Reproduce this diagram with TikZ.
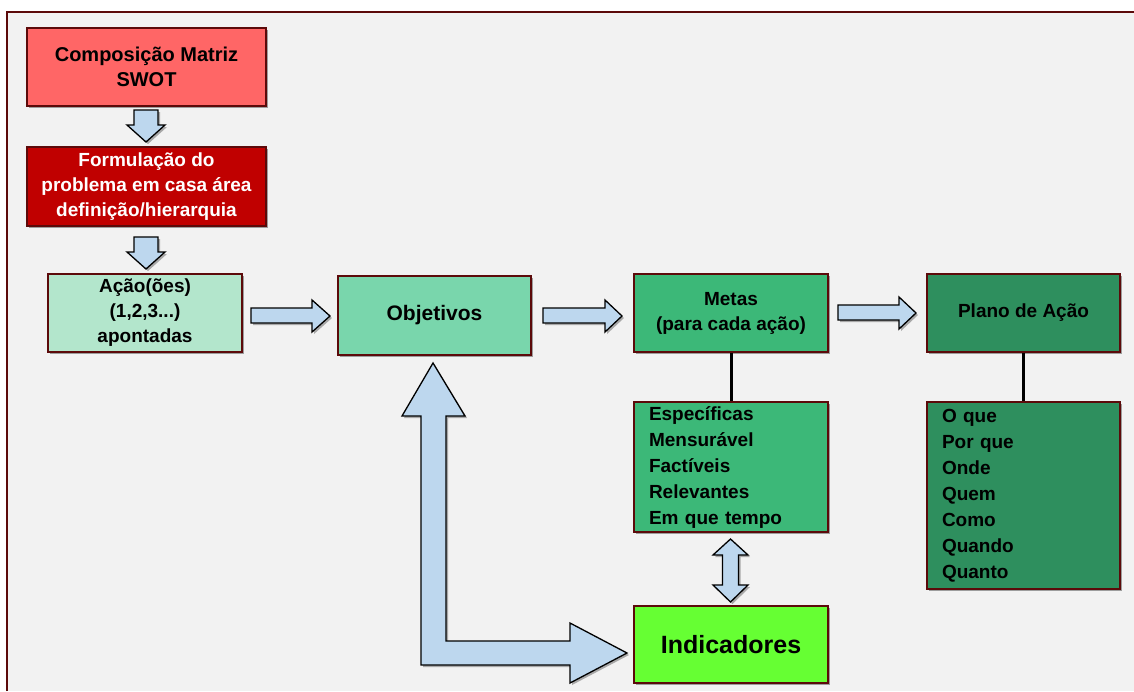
\documentclass[tikz,border=0pt]{standalone}
\usepackage{fontspec}
\setmainfont{Liberation Sans}
\usetikzlibrary{shadows}
\definecolor{bgc}{HTML}{F2F2F2}
\definecolor{frame}{HTML}{5C0A0A}
\definecolor{cswot}{HTML}{FF6666}
\definecolor{cform}{HTML}{C00000}
\definecolor{cacao}{HTML}{B3E6CC}
\definecolor{cobj}{HTML}{79D6AC}
\definecolor{cmetas}{HTML}{3CB878}
\definecolor{cplano}{HTML}{2E8F5E}
\definecolor{cind}{HTML}{66FF33}
\definecolor{carrow}{HTML}{BDD7EE}
\tikzset{
  box/.style={draw=frame, line width=1.5pt, inner sep=0pt, align=center,
    font=\fontsize{19}{25}\selectfont\bfseries,
    drop shadow={shadow xshift=2pt, shadow yshift=-2pt, opacity=0.35, fill=black}},
  listbox/.style={box, align=left, inner xsep=15pt,
    font=\fontsize{19}{26}\selectfont\bfseries},
  blockarrow/.style={fill=carrow, draw=black, line width=1.3pt, line join=miter,
    drop shadow={shadow xshift=2pt, shadow yshift=-2pt, opacity=0.3, fill=black}},
  link/.style={draw=black, line width=3pt}
}
\begin{document}
\begin{tikzpicture}[x=1pt, y=-1pt]
\useasboundingbox (0,0) rectangle (1134,691);
\fill[white] (0,0) rectangle (1134,691);
\fill[bgc] (7,12) rectangle (1134,691);
\draw[frame, line width=2.5pt] (7,691) -- (7,12) -- (1134,12);

% boxes
\node[box, fill=cswot, minimum width=239pt, minimum height=78pt, font=\fontsize{20}{25}\selectfont\bfseries] (swot) at (146.5,67) {Composição Matriz\\SWOT};
\node[box, fill=cform, text=white, minimum width=239pt, minimum height=79pt] (form) at (146.5,186.5) {Formulação do\\problema em casa área\\definição/hierarquia};
\node[box, fill=cacao, minimum width=194pt, minimum height=78pt] (acao) at (145,313) {Ação(ões)\\(1,2,3...)\\apontadas};
\node[box, fill=cobj, minimum width=193pt, minimum height=79pt, font=\fontsize{21}{25}\selectfont\bfseries] (obj) at (434.5,315.5) {Objetivos};
\node[box, fill=cmetas, minimum width=194pt, minimum height=78pt] (metas) at (731,313) {Metas\\(para cada ação)};
\node[box, fill=cplano, minimum width=193pt, minimum height=78pt] (plano) at (1023.5,313) {Plano de Ação};
\node[listbox, fill=cmetas, text width=164pt, minimum height=130pt] (esp) at (731,467) {Específicas\\Mensurável\\Factíveis\\Relevantes\\Em que tempo};
\node[listbox, fill=cplano, text width=163pt, minimum height=187pt] (oque) at (1023.5,495.5) {O que\\Por que\\Onde\\Quem\\Como\\Quando\\Quanto};
\node[box, fill=cind, minimum width=194pt, minimum height=77pt, font=\fontsize{25}{30}\selectfont\bfseries] (ind) at (731,644.5) {Indicadores};

% connectors
\draw[link] (metas.south) -- (esp.north);
\draw[link] (plano.south) -- (oque.north);

% block arrows
\draw[blockarrow] (134,110) -- (158,110) -- (158,125) -- (165,125) -- (146,142) -- (127,125) -- (134,125) -- cycle;
\draw[blockarrow] (134,237) -- (158,237) -- (158,252) -- (165,252) -- (146,269) -- (127,252) -- (134,252) -- cycle;
\draw[blockarrow] (251,308) -- (312,308) -- (312,300) -- (330,316) -- (312,332) -- (312,323) -- (251,323) -- cycle;
\draw[blockarrow] (543,308) -- (605,308) -- (605,300) -- (622,316) -- (605,332) -- (605,323) -- (543,323) -- cycle;
\draw[blockarrow] (838,305) -- (899,305) -- (899,297) -- (916,313) -- (899,329) -- (899,320) -- (838,320) -- cycle;
\draw[blockarrow] (433,363) -- (465,416) -- (446,416) -- (446,641) -- (570,641) -- (570,623) -- (627,653) -- (570,683) -- (570,665) -- (421,665) -- (421,416) -- (402,416) -- cycle;
\draw[blockarrow] (730.5,539) -- (748,555) -- (738.5,555) -- (738.5,585) -- (748,585) -- (730.5,602) -- (713,585) -- (722.5,585) -- (722.5,555) -- (713,555) -- cycle;
\end{tikzpicture}
\end{document}
